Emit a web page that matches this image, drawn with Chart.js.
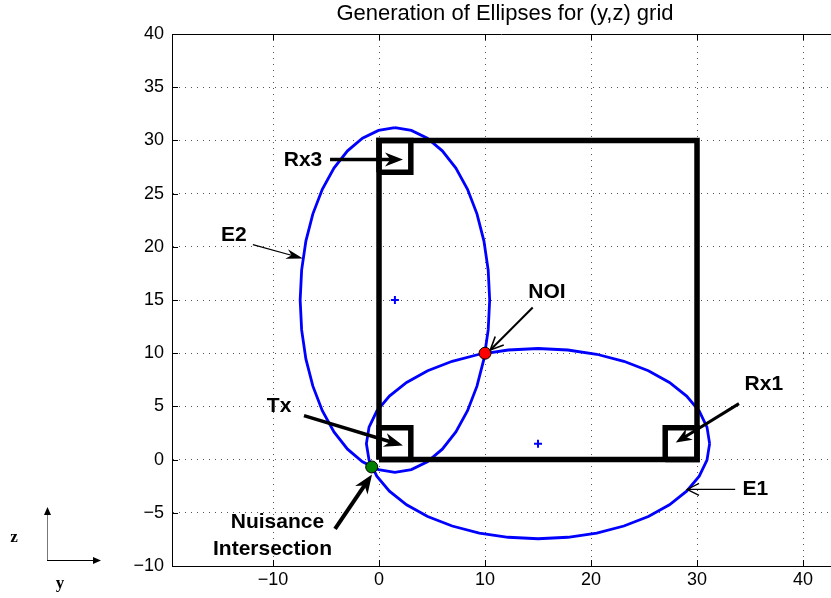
<!DOCTYPE html>
<html>
<head>
<meta charset="utf-8">
<script src="https://cdn.jsdelivr.net/npm/chart.js@4.4.1/dist/chart.umd.min.js"></script>
<style>
  html, body { margin: 0; padding: 0; background: #fff; overflow: hidden; }
  #wrap { position: relative; width: 831px; height: 598px; }
  canvas { display: block; }
</style>
</head>
<body>
<div id="wrap"><canvas id="chart" width="831" height="598"></canvas></div>
<script>
// axis ranges and ticks (y = horizontal, z = vertical)
const Y_RANGE = [-19.53, 42.64];
const Z_RANGE = [-10, 40];
const Y_TICKS = [-10, 0, 10, 20, 30, 40];
const Z_TICKS = [-10, -5, 0, 5, 10, 15, 20, 25, 30, 35, 40];

// ellipse E1 (Tx - Rx1), traced every 10 degrees
const e1Y = [31.19, 30.94, 30.21, 29.02, 27.40, 25.41, 23.10, 20.54, 17.81, 15.00, 12.19, 9.46, 6.90, 4.59, 2.60, 0.98, -0.21, -0.94, -1.19,
  -0.94, -0.21, 0.98, 2.60, 4.59, 6.90, 9.46, 12.19, 15.00, 17.81, 20.54, 23.10, 25.41, 27.40, 29.02, 30.21, 30.94, 31.19];
const e1Z = [1.50, 3.05, 4.56, 5.97, 7.25, 8.35, 9.24, 9.90, 10.30, 10.44, 10.30, 9.90, 9.24, 8.35, 7.25, 5.97, 4.56, 3.05, 1.50,
  -0.05, -1.56, -2.97, -4.25, -5.35, -6.24, -6.90, -7.30, -7.44, -7.30, -6.90, -6.24, -5.35, -4.25, -2.97, -1.56, -0.05, 1.50];

// ellipse E2 (Tx - Rx3)
const e2Y = [1.50, 3.05, 4.56, 5.97, 7.25, 8.35, 9.24, 9.90, 10.30, 10.44, 10.30, 9.90, 9.24, 8.35, 7.25, 5.97, 4.56, 3.05, 1.50,
  -0.05, -1.56, -2.97, -4.25, -5.35, -6.24, -6.90, -7.30, -7.44, -7.30, -6.90, -6.24, -5.35, -4.25, -2.97, -1.56, -0.05, 1.50];
const e2Z = [31.19, 30.94, 30.21, 29.02, 27.40, 25.41, 23.10, 20.54, 17.81, 15.00, 12.19, 9.46, 6.90, 4.59, 2.60, 0.98, -0.21, -0.94, -1.19,
  -0.94, -0.21, 0.98, 2.60, 4.59, 6.90, 9.46, 12.19, 15.00, 17.81, 20.54, 23.10, 25.41, 27.40, 29.02, 30.21, 30.94, 31.19];

// grid outline and antenna boxes
const boxY = [0, 30, 30, 0, 0];
const boxZ = [0, 0, 30, 30, 0];
const txY = [0, 3, 3, 0, 0];
const txZ = [0, 0, 3, 3, 0];
const rx1Y = [27, 30, 30, 27, 27];
const rx1Z = [0, 0, 3, 3, 0];
const rx3Y = [0, 3, 3, 0, 0];
const rx3Z = [27, 27, 30, 30, 27];

// ellipse centres, node of interest, nuisance intersection
const centreY = [1.5, 15];
const centreZ = [15, 1.5];
const noiY = [10];
const noiZ = [10];
const nuisY = [-0.69];
const nuisZ = [-0.69];

// annotation text and arrows (data coords)
const labelText = ['Rx3', 'E2', 'NOI', 'Tx', 'Rx1', 'E1', 'Nuisance', 'Intersection'];
const labelY = [-7.17, -13.7, 15.85, -9.43, 36.3, 35.5, -9.58, -10.05];
const labelZ = [28.15, 21.1, 15.75, 5.0, 7.05, -2.75, -5.9, -8.45];

const arrowFromY = [-4.62, -11.9, 14.5, -7.08, 33.96, 33.6, -4.15];
const arrowFromZ = [28.2, 20.2, 14.3, 4.14, 5.26, -2.8, -6.5];
const arrowToY = [2.26, -7.17, 10.5, 2.26, 28.0, 29.06, -0.66];
const arrowToZ = [28.2, 18.9, 10.3, 1.32, 1.6, -2.8, -1.4];
const arrowStyle = [
  { w: 3.5, len: 18, wid: 14, open: false },
  { w: 1.2, len: 17, wid: 10, open: false },
  { w: 2, len: 13, wid: 12, open: true },
  { w: 3.5, len: 19, wid: 14, open: false },
  { w: 3, len: 16, wid: 13, open: false },
  { w: 1.2, len: 12, wid: 12, open: true },
  { w: 4, len: 19, wid: 15, open: false },
];

const pts = (ys, zs) => ys.map((v, i) => ({ x: v, y: zs[i] }));
const fmt = v => (v < 0 ? '\u2212' + Math.abs(v) : String(v));
const FONT = '"Liberation Sans", Arial, Helvetica, sans-serif';

function lineSet(ys, zs, color, width) {
  return {
    data: pts(ys, zs), showLine: true, borderColor: color, borderWidth: width,
    pointRadius: 0, borderJoinStyle: 'miter', borderCapStyle: 'butt', fill: false,
  };
}

function drawArrow(ctx, x1, y1, x2, y2, s) {
  const a = Math.atan2(y2 - y1, x2 - x1);
  const c = Math.cos(a), sn = Math.sin(a);
  const bx = x2 - s.len * c, by = y2 - s.len * sn;
  const px = -sn * s.wid / 2, py = c * s.wid / 2;
  ctx.lineWidth = s.w;
  ctx.strokeStyle = '#000';
  ctx.fillStyle = '#000';
  ctx.lineCap = 'butt';
  ctx.beginPath();
  ctx.moveTo(x1, y1);
  if (s.open) ctx.lineTo(x2, y2);
  else ctx.lineTo(x2 - s.len * 0.6 * c, y2 - s.len * 0.6 * sn);
  ctx.stroke();
  ctx.beginPath();
  if (s.open) {
    ctx.lineWidth = Math.max(1.2, s.w * 0.8);
    ctx.moveTo(bx + px, by + py);
    ctx.lineTo(x2, y2);
    ctx.lineTo(bx - px, by - py);
    ctx.stroke();
  } else {
    const nx = x2 - s.len * 0.7 * c, ny = y2 - s.len * 0.7 * sn;
    ctx.moveTo(x2, y2);
    ctx.lineTo(bx + px, by + py);
    ctx.lineTo(nx, ny);
    ctx.lineTo(bx - px, by - py);
    ctx.closePath();
    ctx.fill();
  }
}

const decor = {
  id: 'decor',
  afterDraw(chart) {
    const { ctx, chartArea: a, scales: { x, y } } = chart;
    ctx.save();

    // top frame line and inward tick marks
    ctx.strokeStyle = '#000';
    ctx.lineWidth = 1;
    ctx.beginPath();
    ctx.moveTo(a.left, a.top + 0.5);
    ctx.lineTo(a.right, a.top + 0.5);
    for (const t of Y_TICKS) {
      const px = Math.round(x.getPixelForValue(t)) + 0.5;
      ctx.moveTo(px, a.bottom); ctx.lineTo(px, a.bottom - 6);
      ctx.moveTo(px, a.top); ctx.lineTo(px, a.top + 6);
    }
    for (const t of Z_TICKS) {
      const py = Math.round(y.getPixelForValue(t)) + 0.5;
      ctx.moveTo(a.left, py); ctx.lineTo(a.left + 6, py);
    }
    ctx.stroke();

    // arrows
    arrowFromY.forEach((v, i) => {
      drawArrow(ctx,
        x.getPixelForValue(v), y.getPixelForValue(arrowFromZ[i]),
        x.getPixelForValue(arrowToY[i]), y.getPixelForValue(arrowToZ[i]),
        arrowStyle[i]);
    });

    // labels
    ctx.fillStyle = '#000';
    ctx.font = 'bold 21px ' + FONT;
    ctx.textAlign = 'center';
    ctx.textBaseline = 'middle';
    labelText.forEach((t, i) => {
      ctx.fillText(t, x.getPixelForValue(labelY[i]), y.getPixelForValue(labelZ[i]));
    });

    // title, centred over the full axes box (which runs past the right edge)
    ctx.font = '22px ' + FONT;
    ctx.fillText('Generation of Ellipses for (y,z) grid', 505, 14);

    // little y/z orientation glyph at lower left
    ctx.lineWidth = 1;
    ctx.strokeStyle = '#777';
    ctx.beginPath();
    ctx.moveTo(47.5, 560); ctx.lineTo(47.5, 514);
    ctx.stroke();
    ctx.strokeStyle = '#000';
    ctx.beginPath();
    ctx.moveTo(47, 560.5); ctx.lineTo(94, 560.5);
    ctx.stroke();
    ctx.beginPath();
    ctx.moveTo(47.5, 507); ctx.lineTo(44, 515); ctx.lineTo(51, 515); ctx.closePath();
    ctx.moveTo(101, 560.5); ctx.lineTo(93, 557); ctx.lineTo(93, 564); ctx.closePath();
    ctx.fill();
    ctx.font = 'bold 17px "Liberation Serif", "Times New Roman", serif';
    ctx.fillText('z', 14, 538);
    ctx.fillText('y', 60, 584);

    ctx.restore();
  }
};

new Chart(document.getElementById('chart'), {
  type: 'scatter',
  data: {
    datasets: [
      { data: pts(noiY, noiZ), pointStyle: 'circle', pointRadius: 6, backgroundColor: '#ff0000', borderColor: '#000', borderWidth: 1 },
      { data: pts(nuisY, nuisZ), pointStyle: 'circle', pointRadius: 6, backgroundColor: '#008000', borderColor: '#000', borderWidth: 1 },
      { data: pts(centreY, centreZ), pointStyle: 'cross', pointRadius: 4, borderColor: '#0000ff', borderWidth: 2 },
      lineSet(boxY, boxZ, '#000', 5.5),
      lineSet(txY, txZ, '#000', 5.5),
      lineSet(rx1Y, rx1Z, '#000', 5.5),
      lineSet(rx3Y, rx3Z, '#000', 5.5),
      lineSet(e1Y, e1Z, '#0000ff', 2.8),
      lineSet(e2Y, e2Z, '#0000ff', 2.8),
    ],
  },
  options: {
    responsive: false,
    animation: false,
    devicePixelRatio: 1,
    events: [],
    layout: { autoPadding: false, padding: { left: 0, top: 34, right: 0, bottom: 0 } },
    plugins: { legend: { display: false }, tooltip: { enabled: false }, title: { display: false } },
    scales: {
      x: {
        type: 'linear', min: Y_RANGE[0], max: Y_RANGE[1],
        afterBuildTicks: s => { s.ticks = Y_TICKS.map(v => ({ value: v })); },
        afterFit: s => { s.height = 32; s.paddingLeft = 0; s.paddingRight = 0; },
        ticks: { color: '#000', font: { family: FONT, size: 18 }, padding: 3, maxRotation: 0, callback: fmt },
        grid: { color: '#555', lineWidth: 1, drawTicks: false },
        border: { display: true, color: '#000', width: 1, dash: [1, 5] },
      },
      y: {
        type: 'linear', min: Z_RANGE[0], max: Z_RANGE[1],
        afterBuildTicks: s => { s.ticks = Z_TICKS.map(v => ({ value: v })); },
        afterFit: s => { s.width = 172; s.paddingTop = 0; s.paddingBottom = 0; },
        ticks: { color: '#000', font: { family: FONT, size: 18 }, padding: 8, callback: fmt },
        grid: { color: '#555', lineWidth: 1, drawTicks: false },
        border: { display: true, color: '#000', width: 1, dash: [1, 5] },
      },
    },
  },
  plugins: [decor],
});
</script>
</body>
</html>
